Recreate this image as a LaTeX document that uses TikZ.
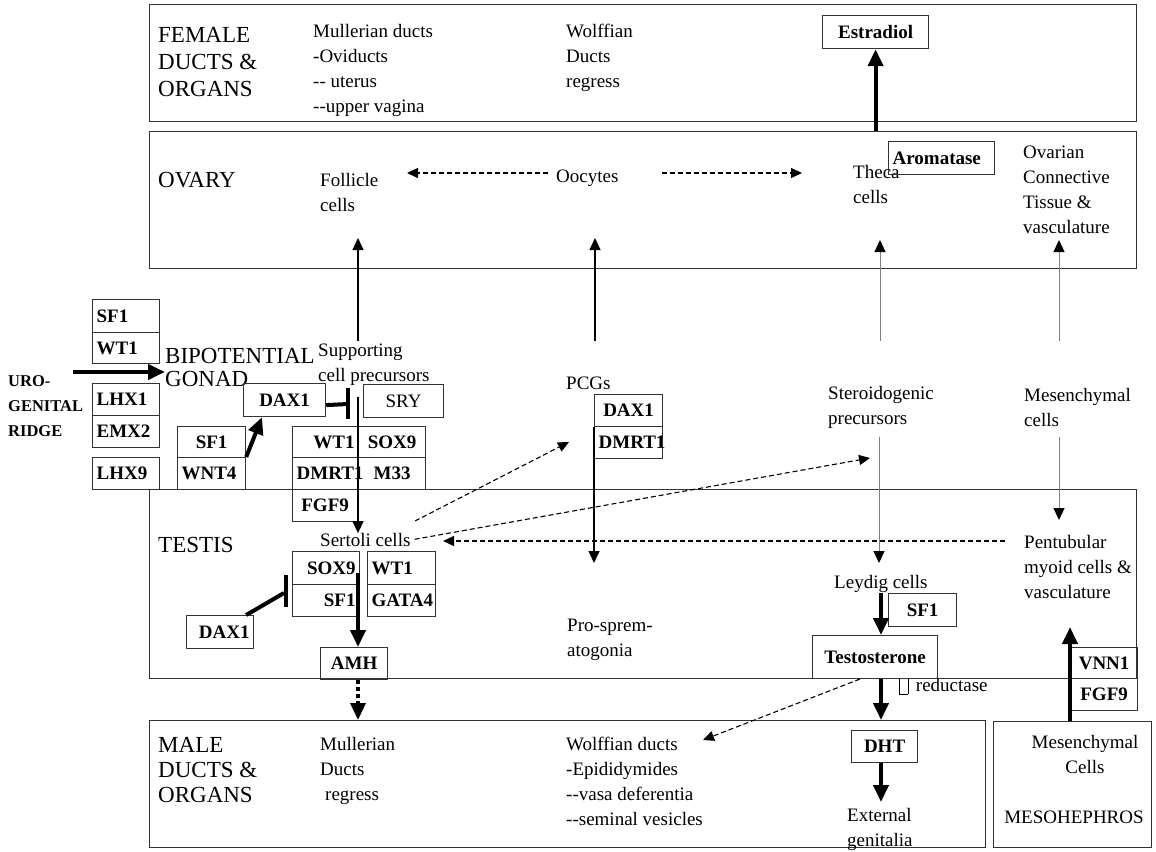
\documentclass[tikz,border=0pt]{standalone}
\usepackage{fontspec}
\setmainfont{Liberation Serif}
\usetikzlibrary{arrows.meta}

\definecolor{boxline}{rgb}{0.2,0.2,0.2}
\definecolor{thinline}{rgb}{0.5,0.5,0.5}

\newcommand{\lblfont}{\fontsize{23}{27}\selectfont}
\newcommand{\cellfont}{\fontsize{19}{25}\selectfont}
\newcommand{\genefont}{\fontsize{19}{22}\selectfont\bfseries}
\newcommand{\twodash}{\mbox{-}\mbox{-}}

\begin{document}
\begin{tikzpicture}[x=1pt,y=-1pt,
    region/.style={draw=boxline, line width=1.3pt, anchor=north west, inner sep=0pt},
    lbl/.style={anchor=west, inner sep=0pt, align=left, font=\lblfont},
    cell/.style={anchor=west, inner sep=0pt, align=left, font=\cellfont},
    gbox/.style={draw=boxline, line width=1.2pt, anchor=north west, inner xsep=4pt, inner ysep=0pt, font=\genefont},
    gl/.style={text width=#1, align=left},
    gr/.style={text width=#1, align=right},
    thinarr/.style={line width=1.2pt, -{Triangle[length=12pt,width=11pt]}},
    greyarr/.style={draw=thinline, line width=1pt, -{Triangle[length=12pt,width=11pt,color=black]}},
    dasharr/.style={line width=1.1pt, dash pattern=on 5pt off 3pt, -{Triangle[length=11pt,width=10pt]}},
    thickarr/.style={line width=4pt, -{Triangle[length=17pt,width=15pt]}},
    dotarr/.style={line width=3.5pt, dash pattern=on 4pt off 3pt, -{Triangle[length=17pt,width=15pt]}},
    inhib/.style={line width=4pt}]

    \useasboundingbox (0,0) rectangle (1156,851);

    % the five regions
    \node[region, minimum width=987pt, minimum height=117pt] (female) at (149,4) {};
    \node[region, minimum width=987pt, minimum height=137pt] (ovary) at (149,131) {};
    \node[region, minimum width=987pt, minimum height=189pt] (testis) at (149,489) {};
    \node[region, minimum width=836pt, minimum height=127pt] (male) at (149,720) {};
    \node[region, minimum width=158pt, minimum height=126pt] (mesoneph) at (993,721) {};

    % region labels
    \node[lbl] (fem) at (158,62) {FEMALE\\DUCTS \&\\ORGANS};
    \node[lbl] (ova) at (158,180) {OVARY};
    \node[lbl, font=\fontsize{23}{23}\selectfont] (bip) at (165,367) {BIPOTENTIAL\\GONAD};
    \node[lbl] (tes) at (158,545) {TESTIS};
    \node[lbl, font=\fontsize{23}{25}\selectfont] (mal) at (158,770) {MALE\\DUCTS \&\\ORGANS};
    \node[lbl, font=\fontsize{16.5}{25}\selectfont\bfseries] (ridge) at (8,406) {URO-\\GENITAL\\RIDGE};

    % cells and organs
    \node[cell] (mulF) at (313,70) {Mullerian ducts\\-Oviducts\\\twodash{} uterus\\\twodash upper vagina};
    \node[cell] (wolF) at (566,58) {Wolffian\\Ducts\\regress};
    \node[cell] (fol) at (320,192) {Follicle\\cells};
    \node[cell] (ooc) at (556,178) {Oocytes};
    \node[cell] (theca) at (853,184) {Theca\\cells};
    \node[cell] (ovct) at (1023,190) {Ovarian\\Connective\\Tissue \&\\vasculature};
    \node[cell] (supp) at (318,365) {Supporting\\cell precursors};
    \node[cell] (pcg) at (566,383) {PCGs};
    \node[cell] (ster) at (828,407) {Steroidogenic\\precursors};
    \node[cell] (mesA) at (1024,407) {Mesenchymal\\cells};
    \node[cell] (sert) at (320,540) {Sertoli cells};
    \node[cell] (prosp) at (567,640) {Pro-sprem-\\atogonia};
    \node[cell] (leyd) at (834,584) {Leydig cells};
    \node[cell] (pent) at (1024,567) {Pentubular\\myoid cells \&\\vasculature};
    \node[cell] (mulM) at (320,771) {Mullerian\\Ducts\\\hspace*{5pt}regress};
    \node[cell] (wolM) at (566,781) {Wolffian ducts\\-Epididymides\\\twodash vasa deferentia\\\twodash seminal vesicles};
    \node[cell] (ext) at (847,829) {External\\genitalia};
    \node[cell, anchor=center, align=center] (mesB) at (1085,754) {Mesenchymal\\Cells};
    \node[cell, anchor=center] (meso) at (1074,817) {MESOHEPHROS};
    \node[cell] (red) at (899,686) {\raisebox{-3pt}{\setlength{\fboxsep}{0pt}\fbox{\phantom{\rule{8pt}{16pt}}}}\, reductase};

    % gene boxes
    \node[gbox, minimum height=33pt, gl=59pt] (sfA) at (92,299) {SF1};
    \node[gbox, minimum height=31pt, gl=59pt] (wtA) at (92,332) {WT1};
    \node[gbox, minimum height=32pt, gl=59pt] (lhxA) at (92,383) {LHX1};
    \node[gbox, minimum height=32pt, gl=59pt] (emx) at (92,415) {EMX2};
    \node[gbox, minimum height=32pt, gl=59pt] (lhxB) at (92,457) {LHX9};
    \node[gbox, minimum width=82pt, minimum height=33pt] (daxA) at (243,383) {DAX1};
    \node[gbox, minimum width=80pt, minimum height=33pt, font=\fontsize{19}{22}\selectfont] (sry) at (363,384) {SRY};
    \node[gbox, minimum width=68pt, minimum height=31pt] (sfB) at (177,426) {SF1};
    \node[gbox, minimum height=32pt, gl=60pt] (wnt) at (177,457) {WNT4};
    \node[gbox, minimum height=31pt, gr=58pt] (wtC) at (292,426) {WT1};
    \node[gbox, minimum width=67pt, minimum height=31pt] (soxA) at (358,426) {SOX9};
    \node[gbox, minimum height=32pt, gl=58pt] (dmrtA) at (292,457) {DMRT1};
    \node[gbox, minimum width=67pt, minimum height=32pt] (m33) at (358,457) {M33};
    \node[gbox, minimum width=65pt, minimum height=32pt] (fgfA) at (292,489) {FGF9};
    \node[gbox, minimum width=68pt, minimum height=32pt] (daxB) at (594,394) {DAX1};
    \node[gbox, minimum height=32pt, gl=60pt] (dmrtB) at (594,426) {DMRT1};
    \node[gbox, minimum height=33pt, gr=59pt] (soxB) at (292,551) {SOX9};
    \node[gbox, minimum height=32pt, gr=59pt] (sfC) at (292,584) {SF1};
    \node[gbox, minimum height=33pt, gl=60pt] (wtB) at (367,551) {WT1};
    \node[gbox, minimum height=32pt, gl=60pt] (gata) at (367,584) {GATA4};
    \node[gbox, minimum height=33pt, gr=59pt] (daxC) at (186,615) {DAX1};
    \node[gbox, minimum width=67pt, minimum height=32pt] (amh) at (320,647) {AMH};
    \node[gbox, minimum width=106pt, minimum height=33pt] (estr) at (822,15) {Estradiol};
    \node[gbox, minimum height=33pt, gl=98pt] (arom) at (888,141) {Aromatase};
    \node[gbox, minimum width=68pt, minimum height=33pt] (sfD) at (888,593) {SF1};
    \node[gbox, minimum width=125pt, minimum height=43pt] (testo) at (812,635) {Testosterone};
    \node[gbox, minimum width=66pt, minimum height=32pt] (dht) at (851,730) {DHT};
    \node[gbox, minimum width=67pt, minimum height=31pt] (vnn) at (1070,647) {VNN1};
    \node[gbox, minimum width=67pt, minimum height=32pt] (fgfB) at (1070,678) {FGF9};

    % free ends of the connectors
    \coordinate (rowtop) at (0,341);
    \coordinate (folin) at (358,238);
    \coordinate (oocin) at (595,238);
    \coordinate (thecain) at (880,240);
    \coordinate (ovctin) at (1059,240);
    \coordinate (oocL) at (548,173);
    \coordinate (folR) at (407,173);
    \coordinate (oocR) at (662,173);
    \coordinate (thecaL) at (802,173);
    \coordinate (ridgeout) at (73,372);
    \coordinate (barA) at (348,404);
    \coordinate (suppdown) at (358,397);
    \coordinate (pcgdown) at (594,563);
    \coordinate (sterdown) at (879,437);
    \coordinate (leydin) at (879,563);
    \coordinate (mesdown) at (1059,437);
    \coordinate (pentin) at (1059,520);
    \coordinate (sertA) at (415,521);
    \coordinate (pcgin) at (569,442);
    \coordinate (sterin) at (870,458);
    \coordinate (pentL) at (1005,541);
    \coordinate (sertR) at (443,541);
    \coordinate (sox9amh) at (358,573);
    \coordinate (barB) at (284,593);
    \coordinate (leydout) at (881,593);
    \coordinate (testoL) at (860,679);
    \coordinate (wolin) at (703,740);
    \coordinate (extin) at (881,802);
    \coordinate (vnnup) at (1070,627);

    % ovary
    \draw[dasharr] (oocL) -- (folR);
    \draw[dasharr] (oocR) -- (thecaL);
    \draw[thickarr] (estr.south |- ovary.north) -- (estr.south);
    \draw[thinarr] (folin |- rowtop) -- (folin);
    \draw[thinarr] (oocin |- rowtop) -- (oocin);
    \draw[greyarr] (thecain |- rowtop) -- (thecain);
    \draw[greyarr] (ovctin |- rowtop) -- (ovctin);

    % bipotential gonad
    \draw[thickarr] (ridgeout) -- (bip.west |- ridgeout);
    \draw[thickarr] (wnt.north east) -- ([xshift=19pt]daxA.south west);
    \draw[inhib] ([yshift=-5pt]daxA.east) -- (barA);
    \draw[inhib] ([yshift=16pt]barA) -- ([yshift=-15pt]barA);
    \draw[thinarr] (suppdown) -- (sert.north -| suppdown);
    \draw[thinarr] (daxB.south west) -- (pcgdown);
    \draw[greyarr] (sterdown) -- (leydin);
    \draw[greyarr] (mesdown) -- (pentin);

    % testis
    \draw[dasharr] (sertA) -- (pcgin);
    \draw[dasharr, shorten <=4pt] (sert.east) -- (sterin);
    \draw[dasharr] (pentL) -- (sertR);
    \draw[thickarr] (sox9amh) -- (amh.north -| sox9amh);
    \draw[inhib] ([xshift=-8pt]daxC.north east) -- (barB);
    \draw[inhib] ([xshift=2pt,yshift=18pt]barB) -- ([xshift=2pt,yshift=-14pt]barB);
    \draw[dotarr] (amh.south -| sox9amh) -- (male.north -| sox9amh);
    \draw[thickarr] (leydout) -- (testo.north -| leydout);
    \draw[thickarr] (testo.south -| leydout) -- (male.north -| leydout);
    \draw[dasharr] (testoL) -- (wolin);
    \draw[thickarr] (dht.south -| leydout) -- (extin);
    \draw[thickarr] (mesoneph.north -| vnn.west) -- (vnnup);
\end{tikzpicture}
\end{document}
